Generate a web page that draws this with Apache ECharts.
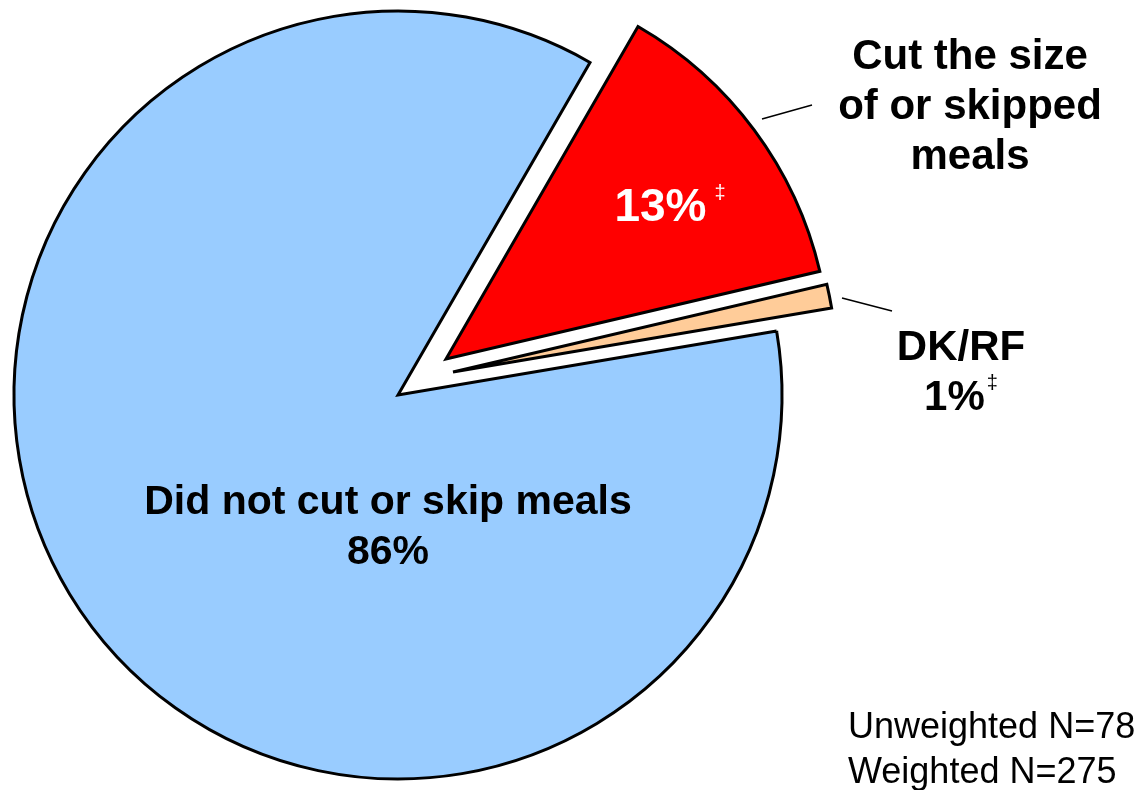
<!DOCTYPE html>
<html>
<head>
<meta charset="utf-8">
<script src="https://cdn.jsdelivr.net/npm/echarts@6.0.0/dist/echarts.min.js"></script>
<style>
  html, body { margin: 0; padding: 0; background: #fff; }
  #chart { width: 1146px; height: 790px; }
</style>
</head>
<body>
<div id="chart"></div>
<script>
  // data
  var categories = ['Cut the size\nof or skipped\nmeals', 'DK/RF', 'Did not cut or skip meals'];
  var values = [13, 1, 86];
  var footnotes = [true, true, false]; // ‡ mark after the percent
  var sliceColors = ['#FF0000', '#FFCC99', '#99CCFF'];
  var sampleNotes = ['Unweighted N=78', 'Weighted N=275'];

  var chart = echarts.init(document.getElementById('chart'));
  var FONT = '"Liberation Sans", Arial, sans-serif';
  var radius = 384;
  // each slice gets its own centre so the two small ones can be pulled out
  var centers = [[446, 359], [453, 372], [398, 395]];

  var hidden = { color: 'rgba(0,0,0,0)', borderWidth: 0 };
  function sliceStyle(i) {
    return { color: sliceColors[i], borderColor: '#000', borderWidth: 3, borderJoin: 'miter', borderMiterLimit: 20 };
  }
  function pct(i) {
    return values[i] + '%' + (footnotes[i] ? '{s|‡}' : '');
  }
  function dagger(pad, color) {
    return { s: { fontSize: 20, fontWeight: 'normal', verticalAlign: 'top', padding: [0, 0, 0, pad], fontFamily: FONT, color: color } };
  }

  // label text + place for each (series, slice)
  var labels = {
    // slice series 0 (red)
    '0-0': { text: pct(0), color: '#fff', size: 46, rich: dagger(8, '#fff'), x: 670, y: 208 },
    // slice series 1 (DK/RF) also carries the outside names
    '1-0': { text: categories[0], color: '#000', size: 42, x: 970, y: 107, line: [[762, 119], [812, 105], [812, 105]] },
    '1-1': { text: categories[1] + '\n' + pct(1), color: '#000', size: 42, rich: dagger(2, '#000'), x: 961, y: 373, line: [[842, 298], [892, 311], [892, 311]] },
    // slice series 2 (blue)
    '2-2': { text: categories[2] + '\n' + pct(2), color: '#000', size: 41, x: 388, y: 528 }
  };

  function makeSeries(s) {
    var data = values.map(function (v, i) {
      var item = { name: categories[i], value: v, itemStyle: i === s ? sliceStyle(i) : hidden };
      var lb = labels[s + '-' + i];
      if (lb) {
        item.label = { show: true, position: lb.line ? 'outside' : 'inside', formatter: lb.text, color: lb.color,
          fontSize: lb.size, lineHeight: 50, rich: lb.rich || {} };
        item.labelLine = { show: !!lb.line };
      } else {
        item.label = { show: false };
        item.labelLine = { show: false };
      }
      return item;
    });
    return {
      type: 'pie',
      center: centers[s],
      radius: radius,
      startAngle: 60,
      clockwise: true,
      silent: true,
      avoidLabelOverlap: false,
      emphasis: { disabled: true },
      label: { fontFamily: FONT, fontWeight: 'bold', align: 'center' },
      labelLine: { lineStyle: { color: '#000', width: 1.5 } },
      labelLayout: function (p) {
        var q = labels[s + '-' + p.dataIndex];
        if (!q) return;
        var out = { x: q.x, y: q.y, align: 'center', verticalAlign: 'middle' };
        if (q.line) out.labelLinePoints = q.line;
        return out;
      },
      data: data
    };
  }

  var option = {
    backgroundColor: '#fff',
    animation: false,
    title: {
      text: sampleNotes.join('\n'),
      left: 848,
      top: 706,
      padding: 0,
      textStyle: { fontFamily: FONT, fontSize: 36, fontWeight: 'normal', lineHeight: 45, color: '#000' }
    },
    series: [makeSeries(2), makeSeries(0), makeSeries(1)]
  };

  chart.setOption(option);
</script>
</body>
</html>
